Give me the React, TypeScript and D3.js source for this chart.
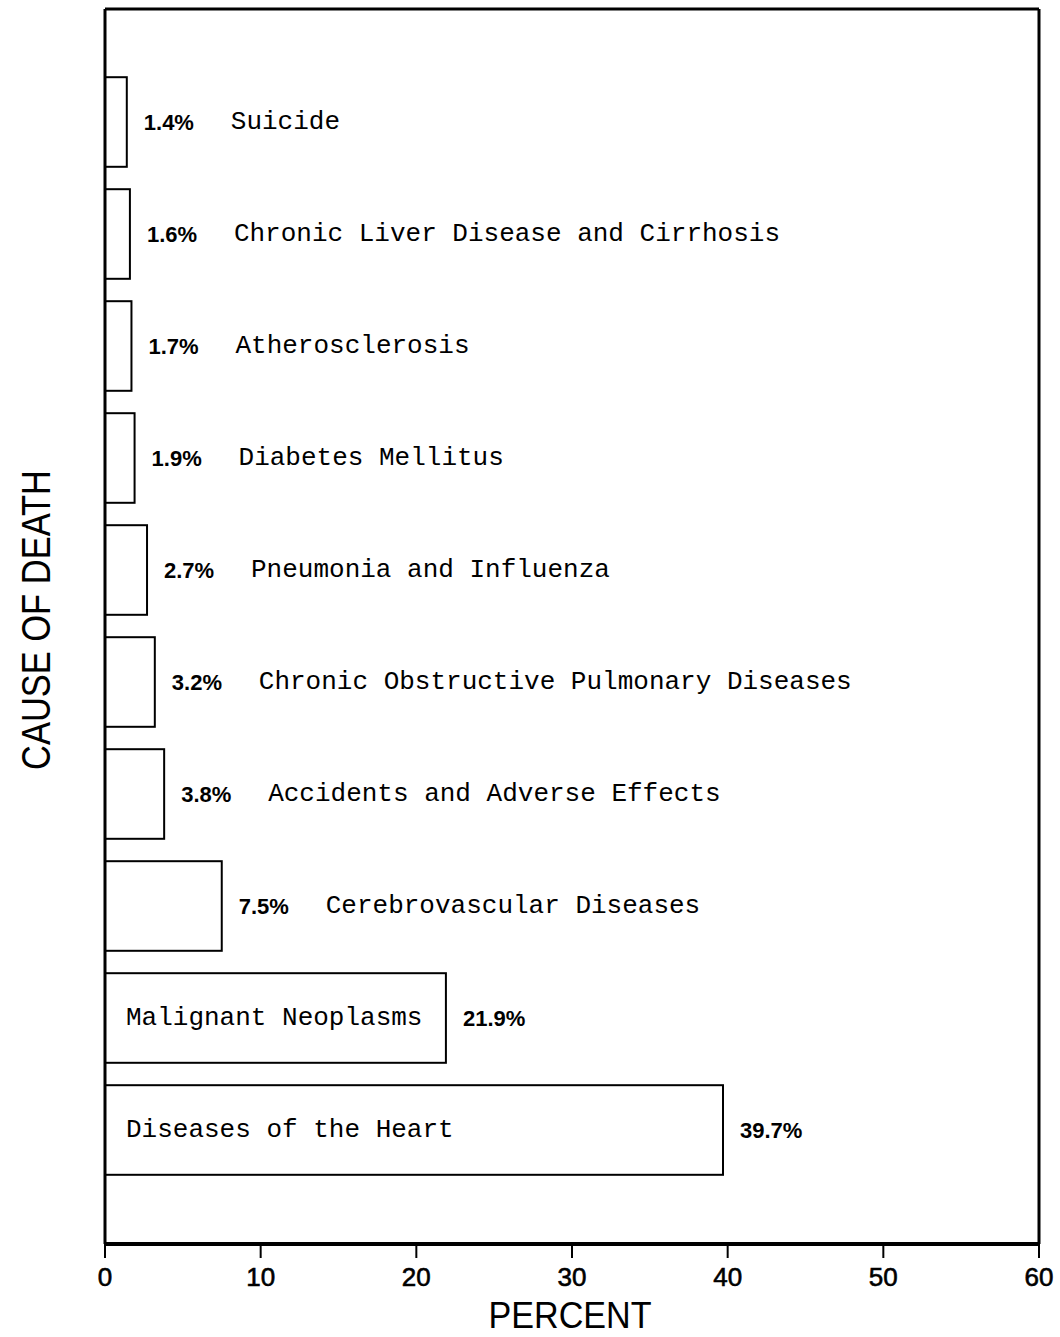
import React from "react";
import * as d3 from "d3";

const causes = [
  "Suicide",
  "Chronic Liver Disease and Cirrhosis",
  "Atherosclerosis",
  "Diabetes Mellitus",
  "Pneumonia and Influenza",
  "Chronic Obstructive Pulmonary Diseases",
  "Accidents and Adverse Effects",
  "Cerebrovascular Diseases",
  "Malignant Neoplasms",
  "Diseases of the Heart",
];
const percents = [1.4, 1.6, 1.7, 1.9, 2.7, 3.2, 3.8, 7.5, 21.9, 39.7];
const pctLabels = ["1.4%", "1.6%", "1.7%", "1.9%", "2.7%", "3.2%", "3.8%", "7.5%", "21.9%", "39.7%"];
const xTicks = [0, 10, 20, 30, 40, 50, 60];
const xTitle = "PERCENT";
const yTitle = "CAUSE OF DEATH";

const W = 1060;
const H = 1337;
const left = 105;
const right = 1039;
const top = 9;
const bottom = 1244;

export default function App() {
  const x = d3.scaleLinear().domain([0, 60]).range([left, right]);
  const y = d3
    .scaleBand<string>()
    .domain(causes)
    .range([66, 1186])
    .paddingInner(0.2)
    .paddingOuter(0.1);
  const bw = y.bandwidth();
  const mono = "'Liberation Mono', 'DejaVu Sans Mono', monospace";
  const sans = "'Liberation Sans', Arial, sans-serif";

  return (
    <svg width={W} height={H} style={{ position: "absolute", left: 0, top: 0, background: "#fff" }}>
      <rect x={0} y={0} width={W} height={H} fill="#fff" />
      {causes.map((c, i) => {
        const y0 = y(c)!;
        const xe = x(percents[i]);
        const cy = y0 + bw / 2;
        const inside = percents[i] > 15;
        return (
          <g key={c}>
            <rect x={x(0)} y={y0} width={xe - x(0)} height={bw} fill="#fff" stroke="#000" strokeWidth={2} />
            <text
              x={xe + 17}
              y={cy}
              dominantBaseline="central"
              fontFamily={sans}
              fontWeight={700}
              fontSize={22}
              fill="#000"
            >
              {pctLabels[i]}
            </text>
            <text
              x={inside ? x(0) + 21 : xe + 17 + 87}
              y={cy}
              dominantBaseline="central"
              fontFamily={mono}
              fontSize={26}
              fill="#000"
            >
              {c}
            </text>
          </g>
        );
      })}
      <line x1={left} y1={top} x2={right} y2={top} stroke="#000" strokeWidth={3} />
      <line x1={left} y1={top} x2={left} y2={bottom} stroke="#000" strokeWidth={3} />
      <line x1={right} y1={top} x2={right} y2={bottom} stroke="#000" strokeWidth={3} />
      <line x1={left - 1} y1={bottom} x2={right + 1} y2={bottom} stroke="#000" strokeWidth={4} />
      {xTicks.map((t) => (
        <g key={t}>
          <line x1={x(t)} y1={bottom} x2={x(t)} y2={bottom + 14} stroke="#000" strokeWidth={2} />
          <text
            x={x(t)}
            y={1286}
            textAnchor="middle"
            fontFamily={sans}
            fontSize={26}
            fill="#000"
            stroke="#000"
            strokeWidth={0.6}
          >
            {t}
          </text>
        </g>
      ))}
      <text
        x={570}
        y={1328}
        textAnchor="middle"
        fontFamily={sans}
        fontSize={37}
        textLength={163}
        lengthAdjust="spacingAndGlyphs"
        fill="#000"
      >
        {xTitle}
      </text>
      <text
        transform={`translate(50, 620) rotate(-90)`}
        textAnchor="middle"
        fontFamily={sans}
        fontSize={40}
        textLength={300}
        lengthAdjust="spacingAndGlyphs"
        fill="#000"
      >
        {yTitle}
      </text>
    </svg>
  );
}
